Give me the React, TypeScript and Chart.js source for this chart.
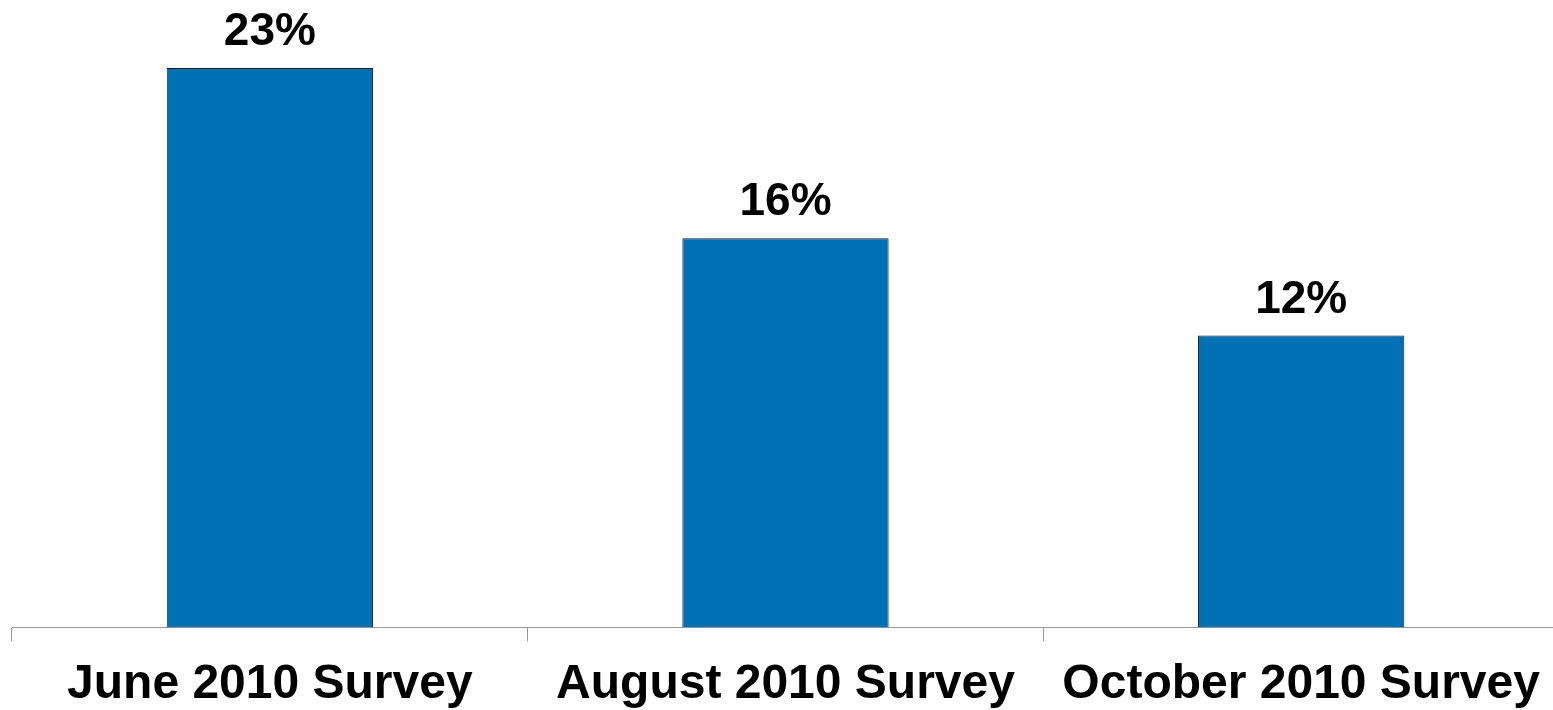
import React, { useEffect, useRef } from "react";
import { Chart, registerables } from "chart.js";

Chart.register(...registerables);

const categories = ["June 2010 Survey", "August 2010 Survey", "October 2010 Survey"];
const values = [23, 16, 12];
const yMax = 25.8;

const FONT = "'Liberation Sans', Arial, sans-serif";
const CW = 1559;
const CH = 729;

const valueLabels = {
  id: "valueLabels",
  afterDatasetsDraw(chart: any) {
    const ctx = chart.ctx;
    const meta = chart.getDatasetMeta(0);
    ctx.save();
    ctx.font = `bold 46px ${FONT}`;
    ctx.fillStyle = "#000";
    ctx.textAlign = "center";
    ctx.textBaseline = "alphabetic";
    meta.data.forEach((bar: any, i: number) => {
      ctx.fillText(values[i] + "%", bar.x, bar.y - 23);
    });
    ctx.restore();
  },
};

export default function App() {
  const ref = useRef<HTMLCanvasElement>(null);
  useEffect(() => {
    if (!ref.current) return;
    const chart = new Chart(ref.current, {
      type: "bar",
      data: {
        labels: categories,
        datasets: [
          {
            data: values,
            backgroundColor: "#0070B5",
            borderColor: "#1a1a1a",
            borderWidth: 1,
            categoryPercentage: 1,
            barPercentage: 0.4,
          },
        ],
      },
      options: {
        animation: false,
        responsive: false,
        maintainAspectRatio: false,
        layout: { padding: { left: 12, right: 0, top: 0, bottom: 0 } },
        plugins: { legend: { display: false }, tooltip: { enabled: false } },
        scales: {
          x: {
            offset: true,
            grid: {
              offset: true,
              drawOnChartArea: false,
              drawTicks: true,
              tickLength: 14,
              color: "#999",
            },
            border: { display: true, color: "#999", width: 1 },
            ticks: {
              color: "#000",
              font: { family: FONT, size: 48, weight: "bold" },
              padding: 15,
              maxRotation: 0,
              autoSkip: false,
            },
          },
          y: {
            display: false,
            min: 0,
            max: yMax,
          },
        },
      },
      plugins: [valueLabels],
    });
    return () => chart.destroy();
  }, []);
  return (
    <div style={{ position: "fixed", left: 0, top: 0, width: 1553, height: 710, background: "#fff", overflow: "hidden" }}>
      <canvas ref={ref} width={CW} height={CH} style={{ width: CW, height: CH, display: "block" }} />
    </div>
  );
}
